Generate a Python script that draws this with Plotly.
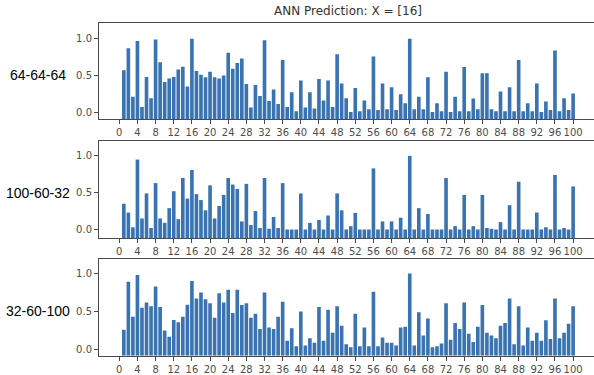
import plotly.graph_objects as go

# Network output for each input index (bar 0 is not drawn)
index = list(range(1, 101))

net_64_64_64 = [
    0.57, 0.87, 0.21, 0.97, 0.07, 0.48, 0.19, 0.99, 0.68, 0.41,
    0.46, 0.48, 0.58, 0.62, 0.35, 1.00, 0.56, 0.51, 0.475, 0.55,
    0.475, 0.46, 0.50, 0.81, 0.59, 0.67, 0.73, 0.385, 0.063, 0.37,
    0.22, 0.98, 0.15, 0.31, 0.11, 0.71, 0.07, 0.27, 0.01, 0.43,
    0.063, 0.27, 0.05, 0.45, 0.16, 0.43, 0.07, 0.79, 0.39, 0.19,
    0.0, 0.33, 0.01, 0.16, 0.04, 0.76, 0.03, 0.39, 0.04, 0.34,
    0.03, 0.245, 0.12, 1.00, 0.04, 0.21, 0.04, 0.475, 0.0, 0.12,
    0.01, 0.55, 0.0, 0.21, 0.01, 0.615, 0.01, 0.185, 0.04, 0.53,
    0.53, 0.04, 0.01, 0.28, 0.01, 0.34, 0.01, 0.71, 0.01, 0.12,
    0.01, 0.39, 0.0, 0.145, 0.03, 0.84, 0.01, 0.19, 0.03, 0.255,
]

net_100_60_32 = [
    0.35, 0.23, 0.03, 0.95, 0.15, 0.49, 0.02, 0.63, 0.15, 0.09,
    0.29, 0.52, 0.14, 0.70, 0.42, 0.81, 0.48, 0.40, 0.26, 0.60,
    0.15, 0.32, 0.47, 0.70, 0.61, 0.55, 0.11, 0.62, 0.06, 0.25,
    0.02, 0.70, 0.01, 0.17, 0.02, 0.63, 0.0, 0.0, 0.0, 0.49,
    0.0, 0.09, 0.0, 0.13, 0.0, 0.19, 0.0, 0.49, 0.26, 0.0,
    0.045, 0.225, 0.0, 0.0, 0.0, 0.83, 0.0, 0.11, 0.0, 0.11,
    0.0, 0.16, 0.0, 1.00, 0.0, 0.29, 0.0, 0.21, 0.0, 0.0,
    0.0, 0.70, 0.0, 0.045, 0.0, 0.47, 0.0, 0.045, 0.0, 0.47,
    0.02, 0.01, 0.0, 0.10, 0.0, 0.33, 0.0, 0.65, 0.0, 0.0,
    0.0, 0.23, 0.0, 0.03, 0.0, 0.74, 0.0, 0.02, 0.0, 0.585,
]

net_32_60_100 = [
    0.26, 0.89, 0.43, 0.98, 0.55, 0.62, 0.57, 0.83, 0.56, 0.25,
    0.17, 0.39, 0.36, 0.43, 0.59, 0.90, 0.67, 0.75, 0.66, 0.61,
    0.42, 0.74, 0.62, 0.785, 0.48, 0.785, 0.585, 0.61, 0.42, 0.47,
    0.27, 0.75, 0.29, 0.27, 0.43, 0.63, 0.115, 0.28, 0.045, 0.50,
    0.055, 0.15, 0.09, 0.56, 0.115, 0.525, 0.22, 0.57, 0.315, 0.07,
    0.03, 0.47, 0.045, 0.29, 0.045, 0.76, 0.045, 0.16, 0.09, 0.09,
    0.055, 0.29, 0.30, 1.00, 0.055, 0.49, 0.185, 0.41, 0.03, 0.045,
    0.08, 0.61, 0.13, 0.35, 0.27, 0.62, 0.21, 0.10, 0.30, 0.585,
    0.22, 0.185, 0.15, 0.315, 0.35, 0.67, 0.07, 0.57, 0.055, 0.29,
    0.115, 0.22, 0.115, 0.385, 0.14, 0.67, 0.15, 0.22, 0.34, 0.57,
]

model_names = ["64-64-64", "100-60-32", "32-60-100"]
series = [net_64_64_64, net_100_60_32, net_32_60_100]

x_ticks = list(range(0, 101, 4))
y_ticks = [0.0, 0.5, 1.0]
y_tick_text = ["0.0", "0.5", "1.0"]

# per-panel y limits (bars rise from the lower limit)
y_limits = [(-0.099, 1.213), (-0.116, 1.203), (-0.081, 1.195)]

W, H = 594, 375
BAR_COLOR = "#3a73b2"
LINE_COLOR = "#4a4a4a"
TICK_FONT = dict(family="DejaVu Sans", size=10, color="#4d4d4d")

# pixel boxes of the three panels: (top, bottom)
panel_px = [(23.3, 120.0), (141.7, 239.3), (260.0, 357.7)]
x_left_px = 99.0

fig = go.Figure()
layout = dict(
    width=W, height=H,
    margin=dict(l=0, r=0, t=0, b=0),
    paper_bgcolor="white", plot_bgcolor="white",
    showlegend=False, bargap=0.2,
    font=dict(family="DejaVu Sans"),
)

annotations = []
for k, (name, vals, (lo, hi), (top, bot)) in enumerate(
        zip(model_names, series, y_limits, panel_px)):
    sfx = "" if k == 0 else str(k + 1)
    fig.add_trace(go.Bar(
        x=index,
        y=[v - lo for v in vals],
        base=lo,
        marker=dict(color=BAR_COLOR, line=dict(width=0)),
        xaxis="x" + sfx, yaxis="y" + sfx,
        hoverinfo="skip",
    ))
    layout["xaxis" + sfx] = dict(
        domain=[x_left_px / W, 1.0],
        range=[-4.47, 104.6],
        anchor="y" + sfx,
        tickmode="array", tickvals=x_ticks,
        ticks="outside", ticklen=4, tickcolor=LINE_COLOR, tickwidth=1,
        tickfont=TICK_FONT,
        showline=True, linecolor=LINE_COLOR, linewidth=1, mirror=True,
        showgrid=False, zeroline=False, fixedrange=True,
    )
    layout["yaxis" + sfx] = dict(
        domain=[1 - bot / H, 1 - top / H],
        range=[lo, hi],
        anchor="x" + sfx,
        tickmode="array", tickvals=y_ticks, ticktext=y_tick_text,
        ticks="outside", ticklen=4, tickcolor=LINE_COLOR, tickwidth=1,
        tickfont=TICK_FONT,
        showline=True, linecolor=LINE_COLOR, linewidth=1, mirror=False,
        showgrid=False, zeroline=False, fixedrange=True,
    )
    # model label to the left of each panel
    annotations.append(dict(
        text=name, xref="paper", yref="paper",
        x=38 / W, y=1 - ((top + bot) / 2 + 4) / H,
        xanchor="center", yanchor="middle", showarrow=False,
        font=dict(family="Liberation Sans", size=14, color="black"),
    ))

annotations.append(dict(
    text="ANN Prediction: X = [16]", xref="paper", yref="paper",
    x=348 / W, y=1 - 11 / H, xanchor="center", yanchor="middle",
    showarrow=False,
    font=dict(family="DejaVu Sans", size=12, color="#333333"),
))
layout["annotations"] = annotations

fig.update_layout(**layout)
fig.write_html("out.html")
